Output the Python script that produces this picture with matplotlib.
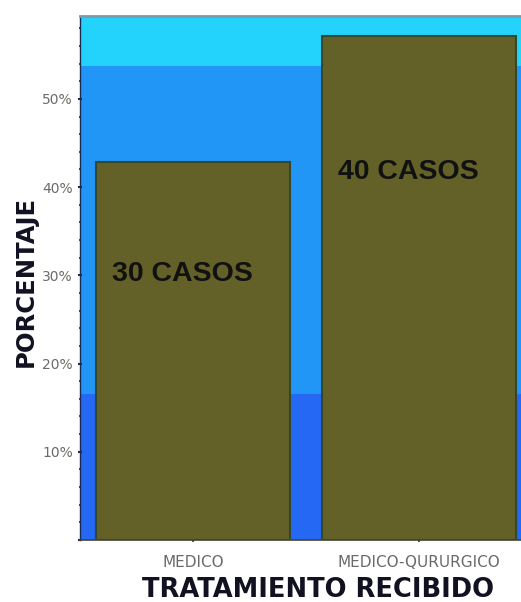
import matplotlib
matplotlib.use("Agg")
import matplotlib.pyplot as plt
from matplotlib.ticker import MultipleLocator, FuncFormatter

# Data
categories = ["MEDICO", "MEDICO-QURURGICO"]
casos = [30, 40]
total = sum(casos)
porcentajes = [c / total * 100 for c in casos]
etiquetas = [f"{c} CASOS" for c in casos]

# Background bands (percent ranges)
band_limits = [0, 16.5, 53.7, 59.4]
band_colors = ["#2468f4", "#2196f6", "#24d3fb"]

fig = plt.figure(figsize=(5.21, 6.02), dpi=100)
ax = fig.add_axes([80 / 521, 1 - 540 / 602, 452 / 521, (540 - 16) / 602])

for lo, hi, col in zip(band_limits[:-1], band_limits[1:], band_colors):
    ax.axhspan(lo, hi, color=col, zorder=0, lw=0)

x = list(range(len(categories)))
ax.bar(x, porcentajes, width=0.855, color="#636128", edgecolor="#34482f",
       linewidth=1.5, zorder=2)

label_y = [30.1, 41.7]
for xi, lab, yy in zip(x, etiquetas, label_y):
    ax.text(xi - 0.045, yy, lab, ha="center", va="center", fontsize=20.5,
            fontweight="bold", color="#111111", family="Liberation Sans", zorder=3)

ax.set_xlim(-0.5, 1.5)
ax.set_ylim(0, 59.4)
ax.set_xticks(x)
ax.set_xticklabels(categories, fontsize=11, color="#6a6a6a", family="DejaVu Sans Condensed")
ax.yaxis.set_major_locator(MultipleLocator(10))
ax.yaxis.set_minor_locator(MultipleLocator(2))
ax.yaxis.set_major_formatter(FuncFormatter(lambda v, p: "" if v == 0 else f"{v:.0f}%"))
for t in ax.get_yticklabels():
    t.set_family("DejaVu Sans Condensed")
ax.tick_params(axis="y", which="major", labelsize=10, labelcolor="#6a6a6a",
               length=3, width=1.5, color="#1a2a50", direction="inout")
ax.tick_params(axis="y", which="minor", length=2, width=1.2, color="#1a2a50", direction="inout")
ax.tick_params(axis="x", length=3, width=1.2, color="#333333", direction="inout", pad=9)

ax.spines["right"].set_visible(False)
ax.spines["top"].set_color("#7f9aa6")
ax.spines["top"].set_linewidth(2)
ax.spines["left"].set_color("#1a2a50")
ax.spines["left"].set_linewidth(1)
ax.spines["bottom"].set_color("#444433")
ax.spines["bottom"].set_linewidth(1.2)

fig.text(318 / 521, 1 - 590 / 602, "TRATAMIENTO RECIBIDO", ha="center", va="center",
         fontsize=18.5, fontweight="bold", color="#111122", family="DejaVu Sans")
fig.text(26 / 521, 1 - 281 / 602, "PORCENTAJE", ha="center", va="center",
         rotation=90, fontsize=17.5, fontweight="bold", color="#111122", family="DejaVu Sans")

fig.savefig("out.png", dpi=100)
